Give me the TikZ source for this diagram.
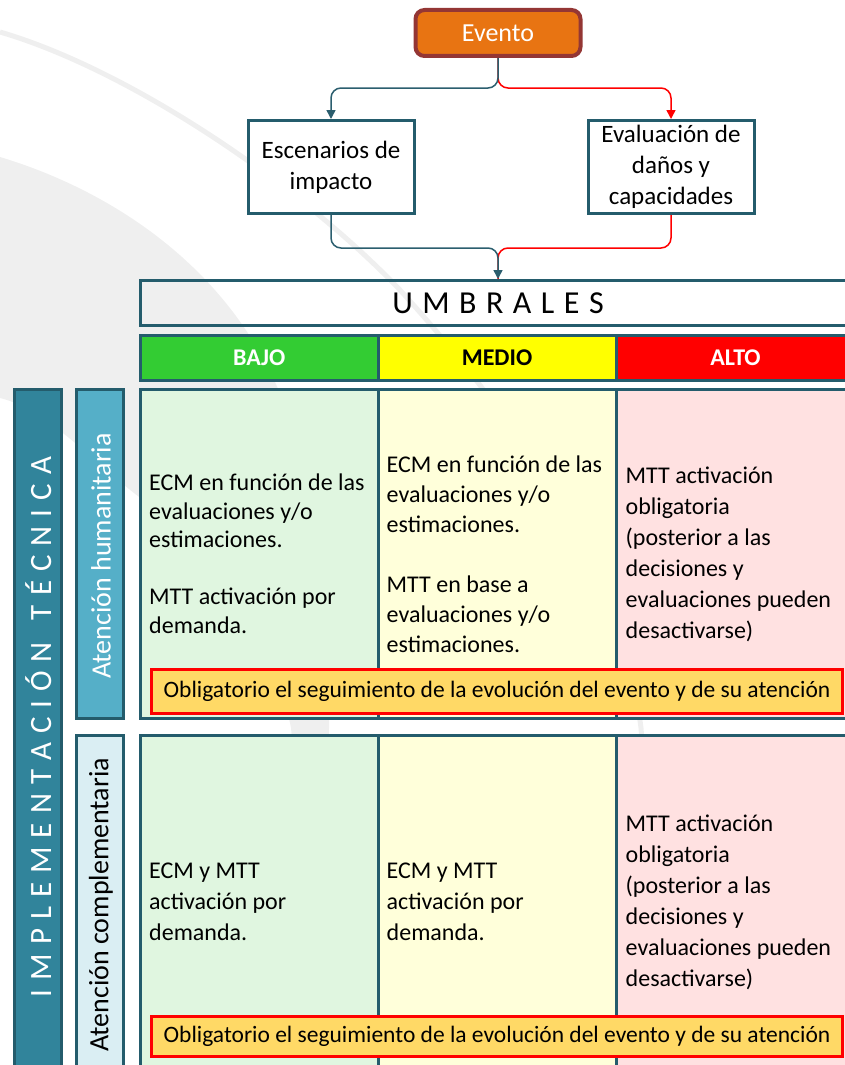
\documentclass[tikz,border=0pt]{standalone}
\usepackage{fontspec}
\setmainfont{Carlito}
\usetikzlibrary{arrows.meta}
\definecolor{tealb}{HTML}{245C6C}
\definecolor{tealln}{HTML}{2B5E6E}
\definecolor{evfill}{HTML}{E87412}
\definecolor{evdraw}{HTML}{943634}
\definecolor{wm}{HTML}{EFEFEF}
\definecolor{gbajo}{HTML}{33CC33}
\definecolor{ymedio}{HTML}{FFFF00}
\definecolor{ralto}{HTML}{FF0000}
\definecolor{lgreen}{HTML}{E0F6E0}
\definecolor{lyellow}{HTML}{FFFFDA}
\definecolor{lpink}{HTML}{FFE1E1}
\definecolor{bannerf}{HTML}{FFD966}
\definecolor{implf}{HTML}{31849B}
\definecolor{ahf}{HTML}{55AFC8}
\definecolor{acf}{HTML}{DAEEF3}
\newcommand\lsp{\hspace{9pt}}
\newcommand\usp{\hspace{9.5pt}}
\begin{document}
\begin{tikzpicture}[x=1pt,y=-1pt,
  tb/.style={draw=tealb, line width=3pt, inner sep=0pt},
  flowbox/.style={tb, fill=white, align=center, minimum width=166pt, minimum height=93pt, font=\fontsize{25}{31}\selectfont},
  hdr/.style={tb, minimum height=45pt, font=\bfseries\fontsize{24}{28}\selectfont},
  cell/.style={tb, minimum height=329pt},
  cellb/.style={tb, minimum height=333pt},
  sidebox/.style={tb, minimum width=47pt},
  ctext/.style={align=left, inner sep=0pt, anchor=west},
  banner/.style={draw=ralto, line width=3pt, fill=bannerf, minimum width=691pt, inner sep=0pt, font=\fontsize{23.5}{28}\selectfont},
  conn/.style={line width=1.5pt, rounded corners=10pt},
  tip/.style={-{Triangle[length=9pt,width=9pt]}}
]
\useasboundingbox (0,0) rectangle (845,1065);
\clip (0,0) rectangle (845,1065);
% watermark
\fill[wm] (0,157) .. controls (110,190) and (240,270) .. (290,420) .. controls (320,520) and (330,620) .. (329,728) .. controls (328,830) and (320,950) .. (312,1065) -- (300,1065) .. controls (300,900) and (298,800) .. (291,728) .. controls (270,620) and (220,540) .. (150,505) .. controls (100,470) and (50,410) .. (0,398) -- cycle;
\draw[wm, line width=5pt] (0,32) .. controls (130,70) and (300,185) .. (400,290) .. controls (500,400) and (620,560) .. (641,728) .. controls (650,850) and (655,950) .. (660,1065);

% flow
\node[draw=evdraw, fill=evfill, line width=4pt, rounded corners=9pt, minimum width=165pt, minimum height=46pt, text=white, font=\fontsize{26}{30}\selectfont, inner sep=0pt] (ev) at (498,33) {Evento};
\node[flowbox] (esc) at (331,167) {Escenarios de\\impacto};
\node[flowbox] (evl) at (671,167) {Evaluación de\\daños y\\capacidades};
\coordinate (umbin) at (498,279);
\draw[conn, draw=ralto, tip] (ev.south) -- ++(0,30) -| (evl.north);
\draw[conn, draw=tealln, tip] (ev.south) -- ++(0,30) -| (esc.north);
\draw[conn, draw=ralto] (evl.south) -- ++(0,33) -| (umbin);
\draw[conn, draw=tealln, tip] (esc.south) -- ++(0,33) -| (umbin);

% umbrales
\node[tb, minimum width=715pt, minimum height=45pt, font=\fontsize{32}{32}\selectfont] (umb) at (498,303) {U\usp M\usp B\usp R\usp A\usp L\usp E\usp S};
\node[hdr, fill=gbajo, text=white, minimum width=237.5pt] (bajo) at (259.25,358) {BAJO};
\node[hdr, fill=ymedio, minimum width=238pt] (medio) at (497,358) {MEDIO};
\node[hdr, fill=ralto, text=white, minimum width=239pt] (alto) at (735.5,358) {ALTO};

% row 1
\node[cell, fill=lgreen, minimum width=237.5pt] (c11) at (259.25,554) {};
\node[cell, fill=lyellow, minimum width=238pt] (c12) at (497,554) {};
\node[cell, fill=lpink, minimum width=239pt] (c13) at (735.5,554) {};
\node[ctext, font=\fontsize{24}{28.5}\selectfont] (t11) at ([xshift=10pt]c11.west) {ECM en función de las\\evaluaciones y/o\\estimaciones.\\[28.5pt]MTT activación por\\demanda.};
\node[ctext, font=\fontsize{24}{30}\selectfont] (t12) at ([xshift=10pt]c12.west) {ECM en función de las\\evaluaciones y/o\\estimaciones.\\[30pt]MTT en base a\\evaluaciones y/o\\estimaciones.};
\node[ctext, font=\fontsize{24}{31}\selectfont] (t13) at ([xshift=11pt]c13.west) {MTT activación\\obligatoria\\(posterior a las\\decisiones y\\evaluaciones pueden\\desactivarse)};
\node[banner] (ban1) at (497,691.5) [minimum height=44pt] {Obligatorio el seguimiento de la evolución del evento y de su atención};

% row 2
\node[cellb, fill=lgreen, minimum width=237.5pt] (c21) at (259.25,902) {};
\node[cellb, fill=lyellow, minimum width=238pt] (c22) at (497,902) {};
\node[cellb, fill=lpink, minimum width=239pt] (c23) at (735.5,902) {};
\node[ctext, font=\fontsize{24}{31}\selectfont] (t21) at ([xshift=10pt]c21.west) {ECM y MTT\\activación por\\demanda.};
\node[ctext, font=\fontsize{24}{31}\selectfont] (t22) at ([xshift=10pt]c22.west) {ECM y MTT\\activación por\\demanda.};
\node[ctext, font=\fontsize{24}{31}\selectfont] (t23) at ([xshift=11pt]c23.west) {MTT activación\\obligatoria\\(posterior a las\\decisiones y\\evaluaciones pueden\\desactivarse)};
\node[banner] (ban2) at (497,1036.5) [minimum height=40pt] {Obligatorio el seguimiento de la evolución del evento y de su atención};

% side columns
\node[sidebox, fill=implf, minimum height=679pt] (impl) at (38,729) {};
\node[rotate=90, text=white, inner sep=0pt, font=\fontsize{31}{31}\selectfont] (implt) at (39,727) {I\lsp M\lsp P\lsp L\lsp E\lsp M\lsp E\lsp N\lsp T\lsp A\lsp C\lsp I\lsp Ó\lsp N\hspace{22pt}T\lsp É\lsp C\lsp N\lsp I\lsp C\lsp A};
\node[sidebox, fill=ahf, minimum height=329pt] (ah) at (100,554) {};
\node[rotate=90, text=white, inner sep=0pt, font=\fontsize{28}{28}\selectfont] (aht) at (101,556) {Atención humanitaria};
\node[sidebox, fill=acf, minimum height=333pt] (ac) at (100,902) {};
\node[rotate=90, inner sep=0pt, font=\fontsize{28}{28}\selectfont] (act) at (101,905) {Atención complementaria};
\end{tikzpicture}
\end{document}
